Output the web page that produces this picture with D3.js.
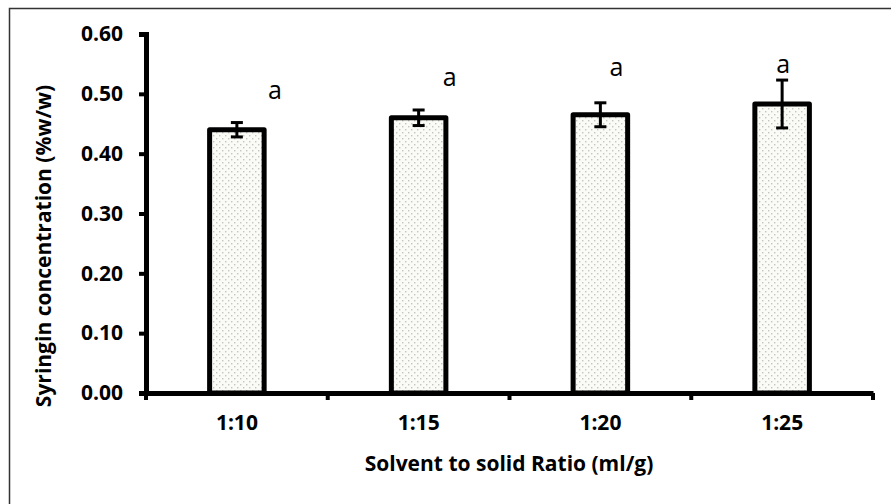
<!DOCTYPE html>
<html>
  <head>
    <meta charset="utf-8" />
    <title>Syringin concentration</title>
    <script src="https://cdnjs.cloudflare.com/ajax/libs/d3/7.8.5/d3.min.js"></script>
    <style>
      body { margin: 0; background: #fff; }
      svg text { font-family: "Open Sans", Lato, sans-serif; fill: #000; }
    </style>
  </head>
  <body>
    <div id="chart"></div>
    <script>
      // values
      const ratios = ["1:10", "1:15", "1:20", "1:25"];
      const concentration = [0.44, 0.46, 0.465, 0.483];
      const errors = [0.012, 0.013, 0.02, 0.04];
      const letters = ["a", "a", "a", "a"];
      const yTicks = [0, 0.1, 0.2, 0.3, 0.4, 0.5, 0.6];

      // where the letters sit (manual placement, like the original)
      const letterDx = [38, 31, 16, 1];
      const letterY = [0.491, 0.513, 0.53, 0.535];

      const width = 891, height = 504;
      const svg = d3.select("#chart").append("svg")
        .attr("width", width)
        .attr("height", height);

      // pattern for the dotted bar fill
      const pat = svg.append("defs").append("pattern")
        .attr("id", "dots")
        .attr("width", 6)
        .attr("height", 6)
        .attr("patternUnits", "userSpaceOnUse");
      pat.append("rect").attr("width", 6).attr("height", 6).attr("fill", "#fafaf6");
      pat.append("rect").attr("x", 0).attr("y", 0).attr("width", 1.4).attr("height", 1.4).attr("fill", "#c4c4c0");
      pat.append("rect").attr("x", 3).attr("y", 3).attr("width", 1.4).attr("height", 1.4).attr("fill", "#c4c4c0");

      // outer frame (runs off the right and bottom edge)
      svg.append("rect")
        .attr("x", 9.5).attr("y", 8.5)
        .attr("width", 1000).attr("height", 1000)
        .attr("fill", "none")
        .attr("stroke", "#333")
        .attr("stroke-width", 1.5);

      const x = d3.scaleBand()
        .domain(ratios)
        .range([146, 873])
        .paddingInner(0.7)
        .paddingOuter(0.35);

      const y = d3.scaleLinear().domain([0, 0.6]).range([393, 34]);

      // bars
      svg.selectAll(".bar")
        .data(concentration)
        .join("rect")
        .attr("class", "bar")
        .attr("x", (d, i) => x(ratios[i]))
        .attr("y", (d) => y(d))
        .attr("width", x.bandwidth())
        .attr("height", (d) => y(0) - y(d))
        .attr("fill", "url(#dots)")
        .attr("stroke", "#000")
        .attr("stroke-width", 5)
        .attr("stroke-linejoin", "round");

      // error bars
      const err = svg.append("g").attr("stroke", "#000").attr("stroke-width", 3);
      concentration.forEach((d, i) => {
        const cx = x(ratios[i]) + x.bandwidth() / 2;
        err.append("line")
          .attr("x1", cx).attr("x2", cx)
          .attr("y1", y(d - errors[i])).attr("y2", y(d + errors[i]));
        [d - errors[i], d + errors[i]].forEach((v) => {
          err.append("line")
            .attr("x1", cx - 6).attr("x2", cx + 6)
            .attr("y1", y(v)).attr("y2", y(v));
        });
      });

      // letters
      svg.selectAll(".letter")
        .data(letters)
        .join("text")
        .attr("class", "letter")
        .attr("x", (d, i) => x(ratios[i]) + x.bandwidth() / 2 + letterDx[i])
        .attr("y", (d, i) => y(letterY[i]))
        .attr("text-anchor", "middle")
        .attr("font-size", 25)
        .text((d) => d);

      // y axis
      const yAxis = svg.append("g")
        .attr("transform", "translate(146,0)")
        .call(d3.axisLeft(y).tickValues(yTicks).tickFormat(d3.format(".2f")).tickSize(7).tickPadding(16));
      yAxis.select(".domain").attr("stroke", "#000").attr("stroke-width", 5);
      yAxis.selectAll(".tick line").attr("stroke", "#000").attr("stroke-width", 4);
      yAxis.selectAll(".tick text")
        .attr("font-size", 21)
        .attr("font-weight", "bold")
        .attr("font-family", "'Open Sans', sans-serif");

      // x axis, ticks on category boundaries
      const xAxis = svg.append("g")
        .attr("transform", "translate(0,393)")
        .call(d3.axisBottom(x).tickSize(0).tickPadding(22));
      xAxis.select(".domain").attr("stroke", "#000").attr("stroke-width", 5);
      xAxis.selectAll(".tick text")
        .attr("font-size", 21)
        .attr("font-weight", "bold")
        .attr("font-family", "'Open Sans', sans-serif");
      const bounds = ratios.map((r) => x(r) - x.step() * x.paddingInner() / 2)
        .concat([x.range()[1]]);
      bounds[0] = x.range()[0];
      xAxis.selectAll(".bound")
        .data(bounds)
        .join("line")
        .attr("class", "bound")
        .attr("x1", (d) => d).attr("x2", (d) => d)
        .attr("y1", 0).attr("y2", 7)
        .attr("stroke", "#000")
        .attr("stroke-width", 4);

      // axis titles
      svg.append("text")
        .attr("x", 509)
        .attr("y", 471)
        .attr("text-anchor", "middle")
        .attr("font-size", 21)
        .attr("font-weight", "bold")
        .text("Solvent to solid Ratio (ml/g)");

      svg.append("text")
        .attr("transform", "translate(51,246) rotate(-90)")
        .attr("text-anchor", "middle")
        .attr("font-size", 21)
        .attr("font-weight", "bold")
        .text("Syringin concentration (%w/w)");
    </script>
  </body>
</html>
